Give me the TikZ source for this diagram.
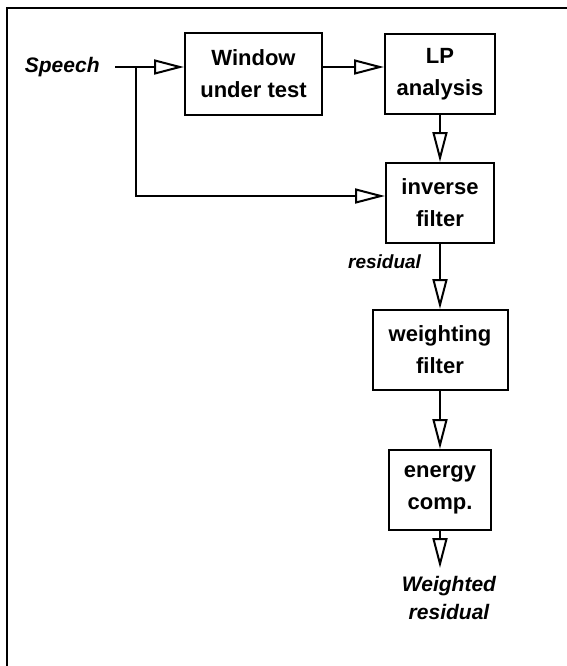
\documentclass[tikz,border=0pt]{standalone}
\usepackage{fontspec}
\setmainfont{Liberation Sans}
\usepackage{tikz}
\usetikzlibrary{positioning, arrows.meta, calc}

\begin{document}
\begin{tikzpicture}[
	  font=\fontsize{11}{16}\selectfont\bfseries,
	  box/.style={
	    draw,
	    line width=1pt,
	    align=center,
	    minimum height=40pt,
	    inner sep=2pt
	  },
	  lbl/.style={font=\fontsize{10.5}{14}\selectfont\bfseries\itshape, align=center, inner sep=1pt},
	  arrow/.style={-{Triangle[open,length=15pt,width=7.5pt]},line width=1pt}
	]

	% --- Frame ---
	\useasboundingbox (0,0) rectangle (283.5pt,-333pt);
	\draw[line width=1.2pt] (3.5pt,-333pt) -- (3.5pt,-4pt) -- (283.5pt,-4pt);

	% --- Top row ---
	\node[box, minimum width=68.5pt, minimum height=41pt] (window) at (126.75pt,-37pt) {Window\\under test};
	\node[box, minimum width=55pt, right=30.5pt of window] (lp) {LP\\analysis};
	\node[lbl, left=41pt of window, yshift=3.5pt] (speech) {Speech};

	% --- Column ---
	\node[box, minimum width=54pt, below=23.5pt of lp] (inverse) {inverse\\filter};
	\node[box, minimum width=67.5pt, below=32.5pt of inverse] (weighting) {weighting\\filter};
	\node[box, minimum width=51pt, below=29pt of weighting] (energy) {energy\\comp.};
	\coordinate[below=18.5pt of energy] (out);
	\node[lbl, below=3pt of out, xshift=4.5pt] (wres) {Weighted\\residual};

	% --- Flows ---
	\coordinate (split) at ([xshift=17pt]speech.east);
	\draw[arrow] ([xshift=6.5pt]speech.east) -- ([yshift=3.5pt]window.west);
	\draw[arrow] ([yshift=3.5pt]window.east) -- ([yshift=3.5pt]lp.west);
	\draw[arrow] (split) |- ([yshift=3.5pt]inverse.west);
	\draw[arrow] (lp) -- (inverse);
	\draw[arrow] (inverse) -- node[pos=0.28, left=8pt, lbl, font=\fontsize{9.5}{12}\selectfont\bfseries\itshape]{residual} (weighting);
	\draw[arrow] (weighting) -- (energy);
	\draw[arrow] (energy) -- (out);

\end{tikzpicture}
\end{document}
